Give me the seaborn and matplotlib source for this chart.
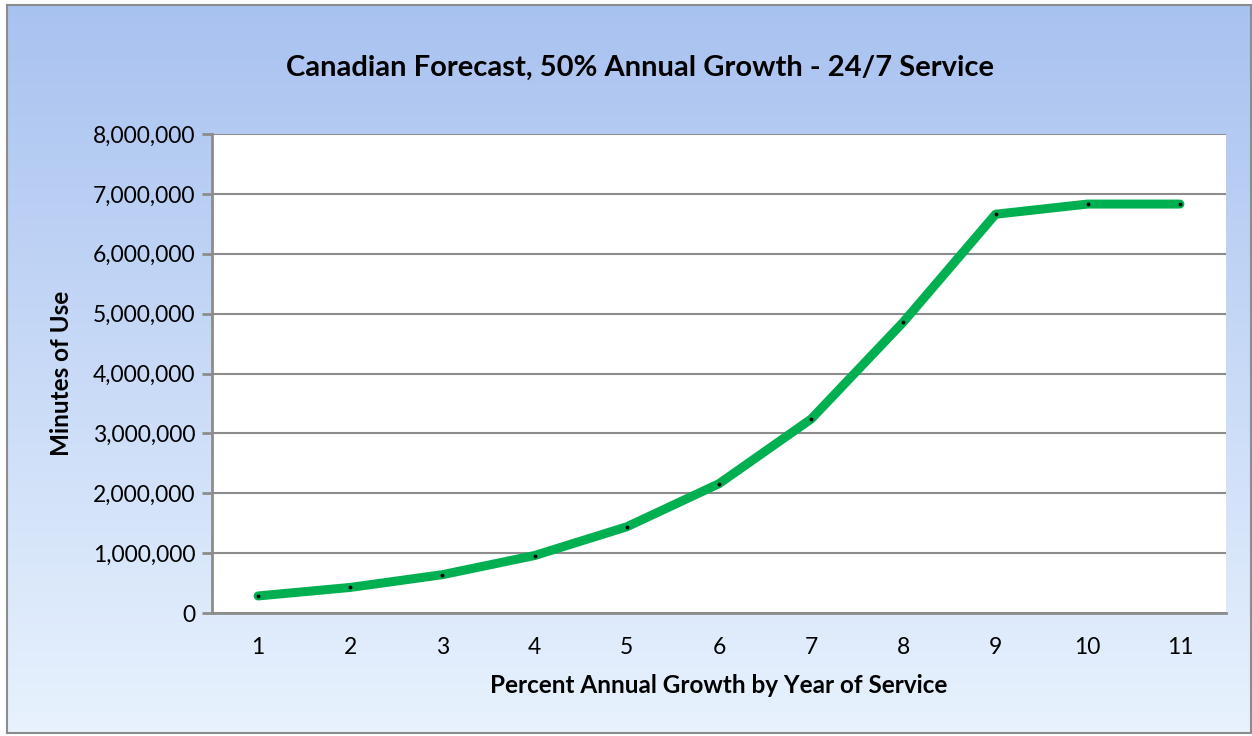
import numpy as np
import pandas as pd
import seaborn as sns
import matplotlib.pyplot as plt
from matplotlib.ticker import FuncFormatter

years = [1, 2, 3, 4, 5, 6, 7, 8, 9, 10, 11]
minutes = [285000, 427000, 640000, 960000, 1440000, 2160000,
           3240000, 4860000, 6660000, 6830000, 6830000]

df = pd.DataFrame({"year": years, "minutes": minutes})

sns.set_theme(style="white")
plt.rcParams['font.family'] = ['Lato', 'DejaVu Sans']
plt.rcParams['text.color'] = 'black'
plt.rcParams['axes.labelcolor'] = 'black'
plt.rcParams['xtick.color'] = 'black'
plt.rcParams['ytick.color'] = 'black'

fig = plt.figure(figsize=(12.52, 7.36), dpi=100)
fig.patch.set_facecolor("white")

# gradient background of the chart frame
bg = fig.add_axes([7 / 1252, 3 / 736, 1244 / 1252, 728 / 736], zorder=0)
grad = np.linspace(0, 1, 256).reshape(-1, 1)
top = np.array([0.66, 0.76, 0.94])
bottom = np.array([0.91, 0.95, 0.995])
img = top[None, None, :] * (1 - grad[..., None]) + bottom[None, None, :] * grad[..., None]
bg.imshow(img, aspect="auto", extent=[0, 1, 0, 1])
bg.set_xticks([])
bg.set_yticks([])
for s in bg.spines.values():
    s.set_color("#8c8c8c")
    s.set_linewidth(1.5)

ax = fig.add_axes([212 / 1252, 1 - 613 / 736, (1226 - 212) / 1252, (613 - 134) / 736], zorder=1)
ax.set_facecolor("white")

sns.lineplot(data=df, x="year", y="minutes", ax=ax, color="#00b050",
             linewidth=6.5, solid_capstyle="round", solid_joinstyle="round",
             marker="o", markersize=2, markerfacecolor="black",
             markeredgecolor="black", zorder=3)

ax.set_xlim(0.5, 11.5)
ax.set_ylim(0, 8000000)
ax.set_xticks(years)
ax.set_yticks(np.arange(0, 8000001, 1000000))
ax.yaxis.set_major_formatter(FuncFormatter(lambda v, p: f"{int(v):,}"))
ax.grid(axis="y", color="#8c8c8c", linewidth=1.5)
ax.set_axisbelow(True)

for side in ["top", "right"]:
    ax.spines[side].set_visible(False)
for side in ["left", "bottom"]:
    ax.spines[side].set_color("#8c8c8c")
    ax.spines[side].set_linewidth(2)

ax.tick_params(axis="y", which="major", left=True, length=7, width=2,
               color="#8c8c8c", labelsize=16.5, pad=5)
ax.tick_params(axis="x", bottom=False, labelsize=16.5, pad=11)

ax.set_xlabel("Percent Annual Growth by Year of Service", fontsize=17.5,
              fontweight="bold", labelpad=12)
ax.set_ylabel("Minutes of Use", fontsize=17.5, fontweight="bold", labelpad=14)

fig.text(640 / 1252, 1 - 68 / 736, "Canadian Forecast, 50% Annual Growth - 24/7 Service",
         ha="center", va="center", fontsize=21, fontweight="bold")

fig.savefig("out.png", dpi=100)
